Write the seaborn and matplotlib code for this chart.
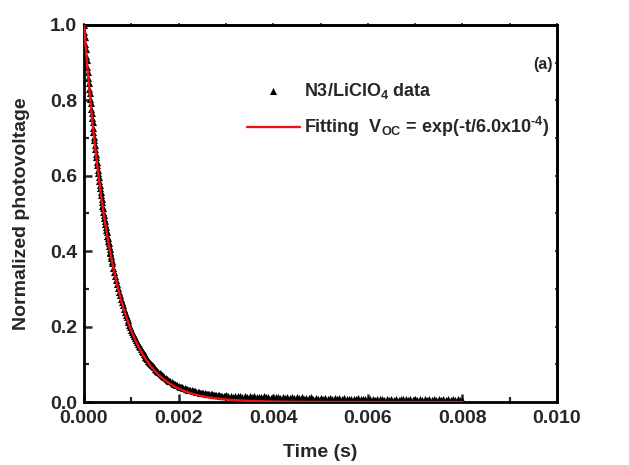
import numpy as np
import pandas as pd
import matplotlib
matplotlib.use("Agg")
import matplotlib.pyplot as plt
import seaborn as sns
from matplotlib.ticker import MultipleLocator, FormatStrFormatter

# ---- data ----
# segment 1: dt = 1e-5 s starting at 0
v1 = [1.000, 0.982, 0.968, 0.950, 0.936, 0.919, 0.906, 0.889, 0.876, 0.860,
      0.847, 0.831, 0.819, 0.804, 0.793, 0.778, 0.767, 0.752, 0.742, 0.728,
      0.717, 0.704, 0.694, 0.681, 0.671, 0.658, 0.649, 0.637, 0.628, 0.616,
      0.607, 0.596, 0.587, 0.576, 0.568, 0.557, 0.549, 0.539, 0.531, 0.521,
      0.514, 0.504, 0.497, 0.488, 0.481, 0.472, 0.465, 0.456, 0.450, 0.441,
      0.435, 0.427, 0.421, 0.413, 0.407, 0.399, 0.394, 0.386, 0.381, 0.373]
# segment 2: dt = 2e-5 s starting at 0.0006
v2 = [0.368, 0.356, 0.345, 0.333, 0.323, 0.312, 0.302, 0.292, 0.283, 0.273,
      0.265, 0.256, 0.248, 0.240, 0.232, 0.225, 0.218, 0.211, 0.204, 0.198,
      0.192, 0.186, 0.180, 0.174, 0.169, 0.164, 0.159, 0.154, 0.149, 0.145,
      0.140, 0.136, 0.132, 0.128, 0.124, 0.120, 0.117, 0.113, 0.110, 0.107,
      0.104, 0.101, 0.098, 0.095, 0.092]
# segment 3: dt = 2.5e-5 s starting at 0.0015
v3 = [0.088, 0.085, 0.082, 0.079, 0.076, 0.074, 0.071, 0.068, 0.066, 0.063,
      0.061, 0.059, 0.057, 0.055, 0.053, 0.051, 0.049, 0.048, 0.046, 0.044,
      0.043, 0.041, 0.040, 0.039, 0.038, 0.036, 0.035, 0.034, 0.033, 0.032,
      0.031, 0.031, 0.030, 0.029, 0.028, 0.027, 0.027, 0.026, 0.025, 0.025,
      0.024, 0.023, 0.023, 0.022, 0.021, 0.021, 0.020, 0.020, 0.020, 0.019,
      0.019, 0.018, 0.018, 0.018, 0.018, 0.017, 0.017, 0.017, 0.017, 0.016]
# segment 4: dt = 5e-5 s starting at 0.003
v4 = [0.018, 0.015, 0.017, 0.014, 0.016, 0.015, 0.017, 0.013, 0.015, 0.014,
      0.016, 0.013, 0.015, 0.012, 0.014, 0.013, 0.015, 0.012, 0.014, 0.011,
      0.013, 0.012, 0.014, 0.011, 0.013, 0.010, 0.012, 0.011, 0.013, 0.010,
      0.012, 0.010, 0.012, 0.009, 0.011, 0.010, 0.012, 0.009, 0.011, 0.009,
      0.011, 0.009, 0.010, 0.008, 0.010, 0.009, 0.011, 0.008, 0.010, 0.008,
      0.010, 0.008, 0.009, 0.007, 0.009, 0.008, 0.010, 0.007, 0.009, 0.007,
      0.009, 0.007, 0.009, 0.006, 0.008, 0.007, 0.009, 0.006, 0.008, 0.006,
      0.008, 0.006, 0.008, 0.006, 0.008, 0.007, 0.008, 0.005, 0.007, 0.006,
      0.008, 0.005, 0.007, 0.006, 0.008, 0.005, 0.007, 0.006, 0.007, 0.005,
      0.007, 0.005, 0.007, 0.006, 0.007, 0.005, 0.007, 0.005, 0.007, 0.005,
      0.006]

seg_start = [0.0, 0.0006, 0.0015, 0.003]
seg_step = [1e-5, 2e-5, 2.5e-5, 5e-5]
segs = [v1, v2, v3, v4]

t_data = np.concatenate([s0 + np.arange(len(v)) * dt for s0, dt, v in zip(seg_start, seg_step, segs)])
v_data = np.concatenate([np.array(v) for v in segs])

TAU = 6.0e-4          # fitted time constant from the legend
T_END = 0.008
t_fit = np.linspace(0, T_END, 400)
v_fit = np.exp(-t_fit / TAU)

data_label = "N3/LiClO$_4$ data"
fit_label = "Fitting  V$_{OC}$ = exp(-t/6.0x10$^{\u20104}$)"

df_data = pd.DataFrame({"t": t_data, "v": v_data})
df_fit = pd.DataFrame({"t": t_fit, "v": v_fit})

# ---- style ----
sns.set_style("ticks")
plt.rcParams["font.family"] = ["Liberation Sans", "DejaVu Sans"]
plt.rcParams["font.weight"] = "bold"
plt.rcParams["axes.labelweight"] = "bold"
plt.rcParams["mathtext.default"] = "regular"

fig = plt.figure(figsize=(6.29, 4.65), dpi=100)
ax = fig.add_axes([84 / 629, 63 / 465, 473 / 629, 377 / 465])

sns.scatterplot(data=df_data, x="t", y="v", marker="^", color="black", s=26,
                linewidth=0, ax=ax, label=data_label, zorder=2)
sns.lineplot(data=df_fit, x="t", y="v", color="#ee1111", lw=1.7, ax=ax,
             label=fit_label, estimator=None, zorder=3)

ax.set_xlim(0, 0.010)
ax.set_ylim(0, 1.0)
ax.xaxis.set_major_locator(MultipleLocator(0.002))
ax.xaxis.set_minor_locator(MultipleLocator(0.001))
ax.yaxis.set_major_locator(MultipleLocator(0.2))
ax.yaxis.set_minor_locator(MultipleLocator(0.1))
ax.xaxis.set_major_formatter(FormatStrFormatter("%.3f"))
ax.yaxis.set_major_formatter(FormatStrFormatter("%.1f"))

ax.tick_params(which="major", direction="in", length=6, width=1.8, labelsize=14)
ax.tick_params(axis="x", which="major", pad=6)
ax.tick_params(axis="y", which="major", pad=5)
ax.tick_params(which="minor", direction="in", length=3.5, width=1.6)
for lab in ax.get_xticklabels() + ax.get_yticklabels():
    lab.set_fontweight("bold")
for sp in ax.spines.values():
    sp.set_linewidth(2.0)
    sp.set_color("black")

# mirrored small ticks on top/right
top = ax.secondary_xaxis("top")
top.xaxis.set_major_locator(MultipleLocator(0.001))
top.tick_params(which="major", direction="inout", length=3, width=1.2, labeltop=False)
top.xaxis.set_minor_locator(plt.NullLocator())
right = ax.secondary_yaxis("right")
right.yaxis.set_major_locator(MultipleLocator(0.1))
right.tick_params(which="major", direction="inout", length=3, width=1.2, labelright=False)
right.yaxis.set_minor_locator(plt.NullLocator())
for sp in list(top.spines.values()) + list(right.spines.values()):
    sp.set_linewidth(2.0)

ax.set_xlabel("Time (s)", fontsize=14, fontweight="bold", labelpad=12)
ax.set_ylabel("Normalized photovoltage", fontsize=14, fontweight="bold", labelpad=14)

ax.text(0.992, 0.895, "(a)", transform=ax.transAxes, ha="right", va="center",
        fontsize=11.5, fontweight="bold")

leg = ax.legend(loc="center left", bbox_to_anchor=(240 / 629, (465 - 110) / 465),
                bbox_transform=fig.transFigure, frameon=False, borderaxespad=0,
                handlelength=2.9, handletextpad=0.25, labelspacing=0.75,
                prop={"size": 13, "weight": "bold"}, markerscale=1.0)

fig.savefig("out.png", dpi=100)
